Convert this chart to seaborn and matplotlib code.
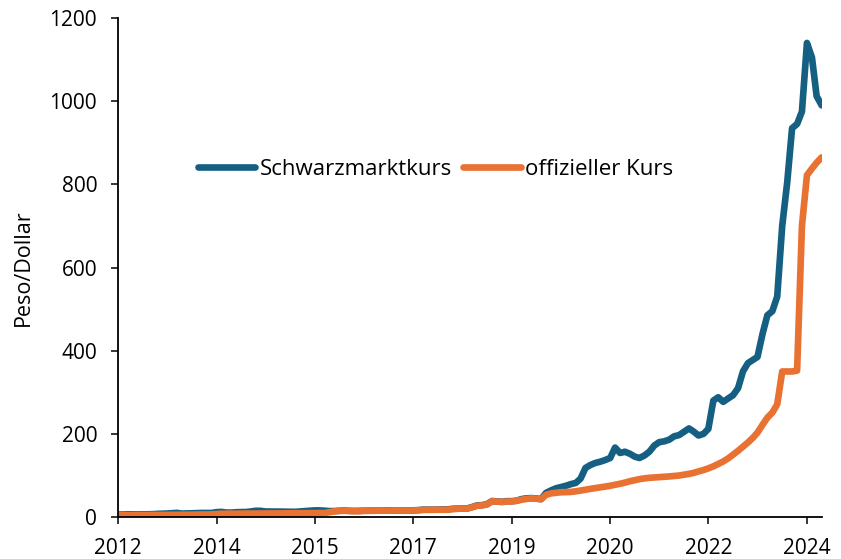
import pandas as pd
import matplotlib.pyplot as plt
import seaborn as sns

# Monatswerte Mai 2012 - Apr 2024 (Peso je Dollar)
monate = pd.date_range('2012-05-01', periods=144, freq='MS')

schwarzmarkt = [
    6.0, 6.0, 6.5, 6.3, 6.3, 6.4, 6.5, 6.8,
    7.6, 7.9, 8.4, 9.3, 10.0, 8.2, 8.5, 9.0, 9.5, 9.8, 9.8, 9.7,
    11.8, 12.2, 10.8, 10.6, 11.5, 11.9, 12.0, 13.3, 15.0, 14.8, 13.2, 13.2,
    13.3, 13.0, 12.8, 12.6, 12.4, 13.4, 14.6, 15.1, 15.9, 15.9, 15.2, 14.2,
    14.3, 14.9, 15.6, 14.9, 14.6, 14.9, 15.1, 15.2, 15.4, 15.6, 15.5, 16.1,
    16.0, 15.8, 15.6, 15.5, 16.1, 16.6, 17.7, 17.6, 17.6, 17.8, 17.8, 18.4,
    19.8, 20.2, 20.6, 20.7, 24.0, 28.0, 28.5, 31.0, 38.5, 37.5, 36.5, 38.2,
    38.0, 39.3, 43.0, 44.9, 45.5, 44.6, 43.0, 58.0, 64.0, 69.0, 72.0, 75.0,
    79.0, 82.0, 92.0, 118.0, 125.0, 130.0, 133.0, 137.0, 142.0, 167.0, 154.0, 157.0,
    152.0, 145.0, 142.0, 148.0, 157.0, 172.0, 180.0, 182.0, 186.0, 194.0, 197.0, 205.0,
    213.0, 205.0, 196.0, 200.0, 212.0, 280.0, 288.0, 277.0, 285.0, 293.0, 310.0, 350.0,
    370.0, 378.0, 385.0, 440.0, 485.0, 495.0, 530.0, 700.0, 805.0, 935.0, 945.0, 975.0,
    1140.0, 1105.0, 1012.0, 990.0,
]

offiziell = [
    4.45, 4.5, 4.6, 4.65, 4.7, 4.75, 4.8, 4.9,
    4.95, 5.0, 5.1, 5.2, 5.25, 5.3, 5.4, 5.55, 5.7, 5.85, 6.05, 6.3,
    7.1, 7.85, 8.0, 8.0, 8.05, 8.1, 8.15, 8.3, 8.45, 8.5, 8.55, 8.55,
    8.6, 8.7, 8.8, 8.9, 8.95, 9.05, 9.15, 9.25, 9.4, 9.5, 9.65, 11.5,
    13.6, 14.8, 15.0, 14.5, 14.1, 13.9, 14.9, 14.9, 15.0, 15.2, 15.3, 15.8,
    15.9, 15.6, 15.5, 15.4, 15.8, 16.2, 17.1, 17.3, 17.3, 17.5, 17.4, 17.6,
    19.0, 19.9, 20.3, 20.3, 23.4, 27.0, 28.0, 30.0, 38.0, 37.2, 36.0, 37.3,
    37.4, 38.9, 41.5, 43.4, 44.9, 44.1, 42.6, 53.3, 56.8, 58.3, 59.5, 59.9,
    60.3, 61.8, 63.6, 65.8, 67.7, 69.5, 71.5, 73.2, 75.2, 77.5, 80.0, 82.6,
    86.1, 88.6, 91.1, 92.9, 94.3, 95.2, 95.9, 96.7, 97.6, 98.6, 99.8, 101.6,
    103.7, 106.3, 109.7, 113.0, 117.0, 121.8, 127.6, 133.5, 141.0, 149.9, 159.3, 169.1,
    179.2, 190.7, 203.0, 221.7, 238.8, 251.2, 270.9, 350.0, 350.0, 350.0, 352.0, 700.0,
    822.0, 838.0, 852.0, 865.0,
]

serien = ['Schwarzmarktkurs', 'offizieller Kurs']
farben = ['#156082', '#E97132']
tick_daten = pd.date_range('2012-05-01', periods=8, freq='20MS')
y_ticks = [0, 200, 400, 600, 800, 1000, 1200]

df = pd.DataFrame({
    'Monat': list(monate) * 2,
    'Kurs': schwarzmarkt + offiziell,
    'Serie': [serien[0]] * len(monate) + [serien[1]] * len(monate),
})

sns.set_style('ticks')
plt.rcParams['font.family'] = ['Open Sans', 'DejaVu Sans']
plt.rcParams['text.color'] = 'black'
plt.rcParams['axes.labelcolor'] = 'black'
plt.rcParams['xtick.color'] = 'black'
plt.rcParams['ytick.color'] = 'black'

fig = plt.figure(figsize=(8.41, 5.59), dpi=100)
ax = fig.add_axes([0.1403, 0.0751, 0.8367, 0.8927])

sns.lineplot(data=df, x='Monat', y='Kurs', hue='Serie', palette=farben,
             linewidth=4.8, solid_capstyle='round', solid_joinstyle='round', ax=ax)

ax.set_xlim(monate[0], monate[-1])
ax.set_ylim(0, 1200)
ax.set_yticks(y_ticks)
ax.set_xticks(tick_daten)
ax.set_xticklabels([d.strftime('%Y') for d in tick_daten])
ax.set_xlabel('')
ax.set_ylabel('Peso/Dollar', fontsize=15.5, labelpad=11)
ax.tick_params(axis='both', labelsize=15, length=5, width=1.1, pad=10,
               color='black', labelcolor='black')
for s in ['left', 'bottom']:
    ax.spines[s].set_linewidth(1.3)
    ax.spines[s].set_color('black')
sns.despine(ax=ax)

handles, labels = ax.get_legend_handles_labels()
for h in handles:
    h.set_linewidth(4.8)
    h.set_solid_capstyle('round')
ax.legend(handles, labels, loc='center', bbox_to_anchor=(0.518, 0.697),
          bbox_transform=fig.transFigure, ncol=2, frameon=False, fontsize=16,
          handlelength=2.6, handletextpad=0.2, columnspacing=0.5,
          labelcolor='black')

plt.savefig('out.png', dpi=100)
